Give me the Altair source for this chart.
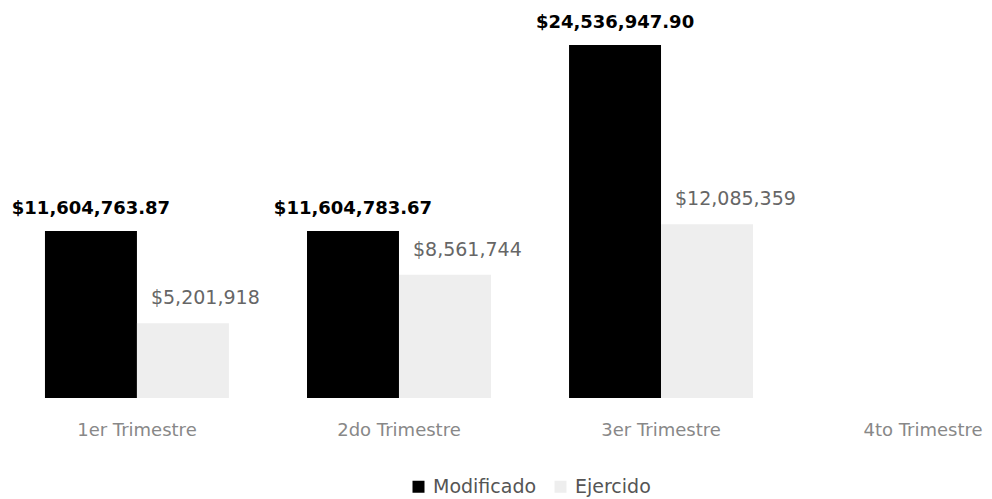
import altair as alt
import pandas as pd

categories = ["1er Trimestre", "2do Trimestre", "3er Trimestre", "4to Trimestre"]
series = ["Modificado", "Ejercido"]
modificado = [11604763.87, 11604783.67, 24536947.90, None]
ejercido = [5201918, 8561744, 12085359, None]

rows = []
for i, c in enumerate(categories):
    if modificado[i] is not None:
        rows.append({"trimestre": c, "serie": "Modificado", "valor": modificado[i]})
    if ejercido[i] is not None:
        rows.append({"trimestre": c, "serie": "Ejercido", "valor": ejercido[i]})
df = pd.DataFrame(rows)

FONT = "DejaVu Sans"

x_enc = alt.X(
    "trimestre:N",
    scale=alt.Scale(domain=categories, range=[0, 1034], paddingInner=0.298, paddingOuter=0.122),
    axis=alt.Axis(title=None, labelAngle=0, domain=False, ticks=False, tickSize=0,
                  labelFontSize=18, labelPadding=23, labelColor="#888888",
                  labelFont=FONT, grid=False),
)
xo_enc = alt.XOffset("serie:N", scale=alt.Scale(domain=series, paddingInner=0, paddingOuter=0))
y_enc = alt.Y("valor:Q", scale=alt.Scale(domain=[0, 26760000], nice=False), axis=None)

base = alt.Chart(df)

bars = base.mark_bar().encode(
    x=x_enc,
    xOffset=xo_enc,
    y=y_enc,
    color=alt.Color(
        "serie:N",
        scale=alt.Scale(domain=series, range=["#000000", "#eeeeee"]),
        legend=alt.Legend(title=None, orient="none", legendX=396, legendY=464,
                          direction="horizontal", padding=0,
                          symbolType="square", symbolSize=144, symbolStrokeWidth=0,
                          labelFontSize=19, labelFont=FONT, labelColor="#555555",
                          columnPadding=14, labelOffset=5),
    ),
)

mod_text = base.transform_filter(alt.datum.serie == "Modificado").mark_text(
    font=FONT, fontSize=18, fontWeight="bold", color="#000000",
    baseline="middle", align="center", dy=-22,
).encode(x=x_enc, xOffset=xo_enc, y=y_enc, text=alt.Text("valor:Q", format="$,.2f"))

eje_text = base.transform_filter(alt.datum.serie == "Ejercido").mark_text(
    font=FONT, fontSize=19, color="#666666",
    baseline="middle", align="left", dx=-32, dy=-25,
).encode(x=x_enc, xOffset=xo_enc, y=y_enc, text=alt.Text("valor:Q", format="$,.0f"))

chart = alt.layer(bars, mod_text, eje_text).properties(
    width=966, height=385,
    autosize=alt.AutoSizeParams(type="none"),
    padding={"left": 5, "top": 5, "right": 5, "bottom": 101},
).configure_view(stroke=None)

chart.save("out.html", embed_options={"renderer": "svg", "actions": False})
